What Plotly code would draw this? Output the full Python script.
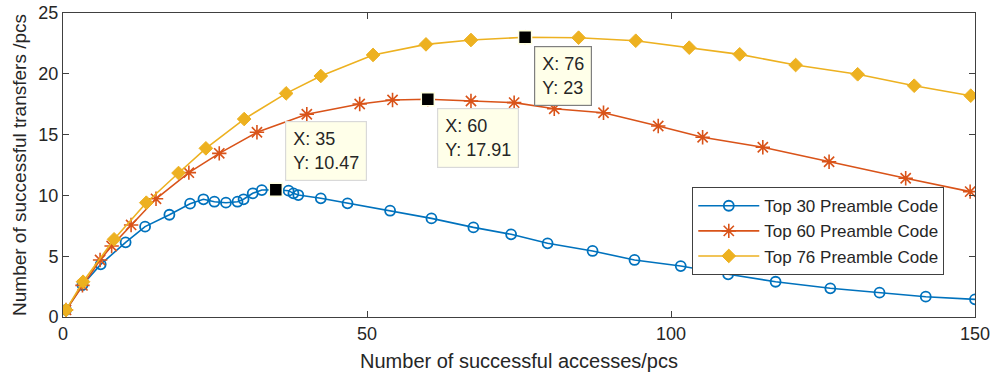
import plotly.graph_objects as go

# Successful accesses (x) vs. successful transfers (y) for three preamble-code pools
top30_x = [0.5, 3.2, 6.2, 10.3, 13.5, 17.5, 20.9, 23.1, 24.9, 26.8, 28.7, 29.7, 31.2, 32.7,
           35, 37.1, 37.9, 38.7, 42.4, 46.8, 53.8, 60.6, 67.5, 73.7, 79.7, 87.1, 94.0,
           101.6, 109.4, 117.2, 126.2, 134.3, 141.9, 150]
top30_y = [0.58, 2.63, 4.33, 6.14, 7.43, 8.41, 9.32, 9.68, 9.48, 9.40, 9.48, 9.68, 10.17, 10.44,
           10.47, 10.39, 10.17, 10.03, 9.76, 9.35, 8.74, 8.11, 7.37, 6.80, 6.06, 5.43, 4.69,
           4.19, 3.51, 2.90, 2.36, 2.00, 1.67, 1.45]

top60_x = [0.5, 3.2, 6.1, 8.0, 11.2, 15.3, 20.7, 25.7, 31.9, 40.1, 48.8, 54.2, 60, 67.1,
           74.2, 80.8, 88.9, 97.9, 105.2, 115.1, 126.0, 138.6, 149.2]
top60_y = [0.58, 2.6, 4.69, 5.84, 7.57, 9.72, 11.87, 13.46, 15.19, 16.67, 17.52, 17.85, 17.91,
           17.76, 17.63, 17.12, 16.8, 15.71, 14.78, 13.96, 12.77, 11.41, 10.31]

top76_x = [0.5, 3.3, 8.4, 13.7, 19.0, 23.5, 29.8, 36.7, 42.4, 51.0, 59.7, 67.1, 76, 84.8,
           94.2, 103.0, 111.3, 120.5, 130.7, 140.0, 149.3]
top76_y = [0.58, 2.9, 6.39, 9.4, 11.84, 13.87, 16.28, 18.39, 19.82, 21.55, 22.42, 22.78, 23,
           22.97, 22.72, 22.15, 21.6, 20.72, 19.96, 19.02, 18.2]

series_names = ["Top 30 Preamble Code", "Top 60 Preamble Code", "Top 76 Preamble Code"]
x_ticks = [0, 50, 100, 150]
y_ticks = [0, 5, 10, 15, 20, 25]

# Peak points highlighted with data tips (x value of each)
tip_x = [35, 60, 76]

FONT = "Liberation Sans, Arial, Helvetica, sans-serif"
TXT = "#262626"
AX = "#404040"
colors = ["#0072BD", "#D95319", "#EDB120"]

fig = go.Figure()

fig.add_trace(go.Scatter(
    x=top30_x, y=top30_y, name=series_names[0], mode="lines+markers",
    line=dict(color=colors[0], width=1.6),
    marker=dict(symbol="circle-open", size=10, color=colors[0], line=dict(width=1.8, color=colors[0])),
))
fig.add_trace(go.Scatter(
    x=top60_x, y=top60_y, name=series_names[1], mode="lines+markers",
    line=dict(color=colors[1], width=1.6),
    marker=dict(symbol="asterisk-open", size=12, color=colors[1], line=dict(width=1.6, color=colors[1])),
))
fig.add_trace(go.Scatter(
    x=top76_x, y=top76_y, name=series_names[2], mode="lines+markers",
    line=dict(color=colors[2], width=1.6),
    marker=dict(symbol="diamond", size=10.5, color=colors[2], line=dict(width=1, color=colors[2])),
))

# Data tips: black square on the point plus a note box
series = [(top30_x, top30_y), (top60_x, top60_y), (top76_x, top76_y)]
tip_pts = []
for (xs, ys), tx in zip(series, tip_x):
    i = xs.index(tx)
    tip_pts.append((xs[i], ys[i]))

fig.add_trace(go.Scatter(
    x=[p[0] for p in tip_pts], y=[p[1] for p in tip_pts], mode="markers", showlegend=False,
    marker=dict(symbol="square", size=13, color="black", line=dict(width=1.5, color="#FFFFE0")),
    hoverinfo="skip",
))

tip_style = [
    dict(yanchor="bottom", yshift=9, border="#D9D9D9"),
    dict(yanchor="top", yshift=-9, border="#D9D9D9"),
    dict(yanchor="top", yshift=-9, border="#7F7F7F"),
]
for (px, py), st in zip(tip_pts, tip_style):
    fig.add_annotation(
        x=px, y=py, xref="x", yref="y", showarrow=False,
        text=f"X: {px:g}<br>Y: {py:g}", align="left",
        xanchor="left", yanchor=st["yanchor"], xshift=9, yshift=st["yshift"],
        font=dict(family=FONT, size=18, color=TXT),
        bgcolor="#FFFFE9", bordercolor=st["border"], borderwidth=1.2, borderpad=7,
    )

axis_common = dict(
    showline=True, linecolor=AX, linewidth=1, mirror="ticks",
    ticks="inside", ticklen=6, tickcolor=AX, tickwidth=1,
    showgrid=False, zeroline=False, automargin=False,
    tickfont=dict(family=FONT, size=18, color=TXT),
)

fig.update_layout(
    width=993, height=380,
    margin=dict(l=63, r=18, t=13, b=63),
    paper_bgcolor="white", plot_bgcolor="white",
    font=dict(family=FONT, color=TXT),
    xaxis=dict(range=[0, 150], tickvals=x_ticks,
               title=dict(text="Number of successful accesses/pcs", font=dict(family=FONT, size=20, color=TXT), standoff=11),
               **axis_common),
    yaxis=dict(range=[0, 25], tickvals=y_ticks,
               title=dict(text="Number of successful transfers /pcs", font=dict(family=FONT, size=19, color=TXT), standoff=6),
               **axis_common),
    legend=dict(
        x=0.690, y=0.427, xanchor="left", yanchor="top",
        bgcolor="white", bordercolor=AX, borderwidth=1,
        font=dict(family=FONT, size=17, color=TXT),
        tracegroupgap=0, itemwidth=61,
    ),
)

fig.write_html("out.html")
